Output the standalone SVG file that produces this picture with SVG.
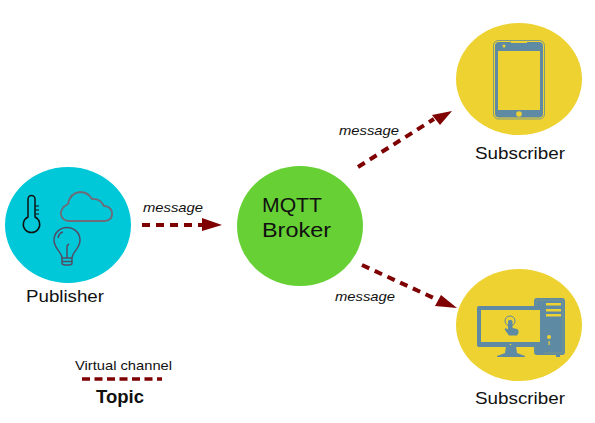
<svg xmlns="http://www.w3.org/2000/svg" width="595" height="423" viewBox="0 0 595 423">
<style>
text{font-family:"Liberation Sans",Arial,sans-serif;fill:#111}
.lbl{font-size:16.500px;text-anchor:middle}
.msg{font-size:13.500px;font-style:italic;text-anchor:middle}
.dash{stroke:#7f0000;stroke-width:4;stroke-dasharray:8 6;fill:none}
.head{fill:#7f0000}
.blue{fill:#5f8aa3}
.yel{fill:#eed231}
</style>
<rect width="595" height="423" fill="#fff"/>
<g id="connectors">
<path class="dash" d="M142 225H203"/><polygon class="head" points="202,218 222,225 202,231"/>
<path class="dash" d="M358 167L434 119"/><polygon class="head" points="432,115 452,111 440,125"/>
<path class="dash" d="M362 265L438 300"/><polygon class="head" points="441,295 457,308 435,306"/>
</g>
<g id="publisher">
<ellipse cx="68" cy="225" rx="63" ry="58" fill="#00c8d8"/>
<path d="M28 199a3.500 3.500 0 0 1 7 0V217a8.200 8.200 0 1 1-7 0Z" fill="none" stroke="#111" stroke-width="1.500"/>
<path d="M35 206h4M35 210h4M35 214h4" stroke="#111" stroke-width="1.200"/>
<path d="M69 221H105Q113 220 112 212Q110 206 104 206Q100 198 92 199Q88 192 80 192Q70 193 68 204Q60 208 61 215Q63 221 69 221Z" fill="none" stroke="#6f6a78" stroke-width="1.800"/>
<path d="M62 258C62 252 54 249 54 240A13 12.500 0 0 1 80 240C80 249 72 252 72 258V263Q72 265 69 265H65Q62 265 62 263ZM62 258H72M62 261.500H72M67 258V247Q67 245 69 244M58 238Q59 233 63 232" fill="none" stroke="#514c66" stroke-width="1.500"/>
<text class="lbl" x="65" y="302" textLength="78" lengthAdjust="spacingAndGlyphs">Publisher</text>
</g>
<g id="broker">
<ellipse cx="300" cy="226" rx="63" ry="60" fill="#66d035"/>
<text x="262" y="212" font-size="21" textLength="60" lengthAdjust="spacingAndGlyphs">MQTT</text>
<text x="262" y="237" font-size="21" textLength="69" lengthAdjust="spacingAndGlyphs">Broker</text>
</g>
<g id="subscriber-phone">
<ellipse cx="519" cy="79" rx="63" ry="56" class="yel"/>
<rect x="493.500" y="40.500" width="51" height="78.500" rx="5" fill="none" stroke="#7f9a84" stroke-width="1"/>
<rect x="495" y="42" width="48" height="75.500" rx="4" class="blue"/>
<rect x="498" y="51" width="42" height="59" class="yel"/>
<rect x="511" y="41" width="16" height="2" class="yel"/>
<circle cx="504" cy="46" r="1.500" class="yel"/>
<circle cx="519" cy="114" r="2.800" class="yel"/>
<text class="lbl" x="520" y="159" textLength="90" lengthAdjust="spacingAndGlyphs">Subscriber</text>
</g>
<g id="subscriber-desktop">
<ellipse cx="519" cy="325" rx="63" ry="56" class="yel"/>
<rect x="534" y="298" width="31" height="57" rx="3" class="blue"/>
<rect x="536" y="300" width="27" height="53" rx="2" fill="none" stroke="#7f9a84" stroke-width="0.800"/>
<rect x="546" y="303" width="15" height="2.500" class="yel"/>
<rect x="546" y="309" width="15" height="2.500" class="yel"/>
<rect x="546" y="314" width="15" height="2.500" class="yel"/>
<circle cx="549" cy="337" r="2" class="yel"/>
<rect x="548.500" y="341" width="1.200" height="4" class="yel"/>
<path d="M536 348H544V355H536ZM556 355h4v2h-4Z" class="blue"/>
<rect x="477" y="306" width="67" height="41" rx="2" class="blue"/>
<rect x="481" y="310" width="59" height="32" class="yel"/>
<path d="M506 346H516L517 353L525 356V357H497V356L505 353Z" class="blue"/>
<circle cx="510.500" cy="344.500" r="0.800" class="yel"/>
<path d="M508 321.500a2.300 2.300 0 0 1 4.500 0V328L517 329Q519 330 518.500 333L517 335.500H509L505 330Q504 327 508 329.500Z" class="blue"/>
<circle cx="510" cy="321" r="5" fill="none" stroke="#5f8aa3" stroke-width="1"/>
<text class="lbl" x="520" y="404" textLength="90" lengthAdjust="spacingAndGlyphs">Subscriber</text>
</g>
<g id="legend">
<text x="123.500" y="370" font-size="13.500" text-anchor="middle" textLength="97" lengthAdjust="spacingAndGlyphs">Virtual channel</text>
<path d="M82 379H162" stroke="#7f0000" stroke-width="3.500" stroke-dasharray="8 4.500" fill="none"/>
<text x="120" y="403" font-size="17.500" font-weight="bold" text-anchor="middle" textLength="48" lengthAdjust="spacingAndGlyphs">Topic</text>
</g>
<text class="msg" x="173" y="212" textLength="60" lengthAdjust="spacingAndGlyphs">message</text>
<text class="msg" x="369" y="135" textLength="60" lengthAdjust="spacingAndGlyphs">message</text>
<text class="msg" x="365" y="301" textLength="60" lengthAdjust="spacingAndGlyphs">message</text>
</svg>
